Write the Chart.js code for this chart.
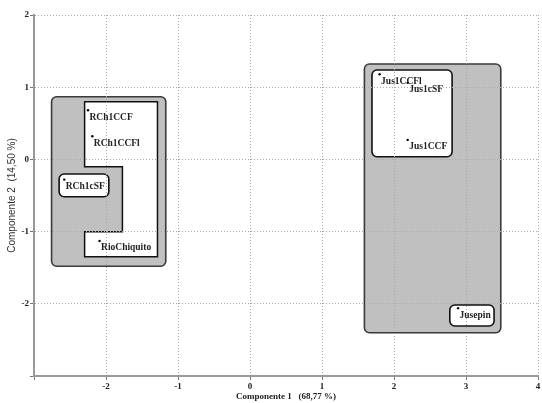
<!DOCTYPE html>
<html>
<head>
<meta charset="utf-8">
<script src="https://cdn.jsdelivr.net/npm/chart.js@4"></script>
<style>
  body { margin: 0; background: #fff; }
</style>
</head>
<body>
<canvas id="pcaChart" width="542" height="403"></canvas>
<script>
// scores on the first two components
const names = ["RCh1CCF", "RCh1CCFl", "RCh1cSF", "RioChiquito", "Jus1CCFl", "Jus1cSF", "Jus1CCF", "Jusepin"];
const comp1 = [-2.25, -2.19, -2.58, -2.09, 1.80, 2.19, 2.19, 2.89];
const comp2 = [0.68, 0.32, -0.28, -1.13, 1.18, 1.06, 0.27, -2.06];

const xTickValues = [-2, -1, 0, 1, 2, 3, 4];
const yTickValues = [-2, -1, 0, 1, 2];

// cluster regions in component units: [x1, y1, x2, y2]
const grayBoxes = [
  [-2.756, 0.868, -1.170, -1.48],
  [1.589, 1.321, 3.483, -2.40],
];
const whiteBoxes = [
  [-2.651, -0.202, -1.961, -0.517],
  [1.694, 1.238, 2.807, 0.037],
  [2.775, -2.017, 3.39, -2.307],
];
const whiteShapeX = [-2.297, -1.285, -1.285, -2.297, -2.297, -1.772, -1.772, -2.297];
const whiteShapeY = [0.799, 0.799, -1.348, -1.348, -1.001, -1.001, -0.101, -0.101];

const serif = "'Liberation Serif', 'Times New Roman', serif";

function boxPath(ctx, x, y, b, r) {
  const x1 = x.getPixelForValue(b[0]);
  const x2 = x.getPixelForValue(b[2]);
  const y1 = y.getPixelForValue(b[1]);
  const y2 = y.getPixelForValue(b[3]);
  ctx.beginPath();
  ctx.roundRect(x1, y1, x2 - x1, y2 - y1, r);
}

const clusterPlugin = {
  id: "clusters",
  beforeDraw(chart) {
    const { ctx, scales: { x, y } } = chart;
    ctx.save();
    ctx.lineJoin = "round";

    grayBoxes.forEach((b) => {
      boxPath(ctx, x, y, b, 5);
      ctx.fillStyle = "#c0c0c0";
      ctx.fill();
      ctx.lineWidth = 1.6;
      ctx.strokeStyle = "#3a3a3a";
      ctx.stroke();
    });

    ctx.beginPath();
    whiteShapeX.forEach((v, i) => {
      const px = x.getPixelForValue(v);
      const py = y.getPixelForValue(whiteShapeY[i]);
      if (i === 0) ctx.moveTo(px, py);
      else ctx.lineTo(px, py);
    });
    ctx.closePath();
    ctx.fillStyle = "#fff";
    ctx.fill();
    ctx.lineWidth = 1.5;
    ctx.strokeStyle = "#111";
    ctx.lineJoin = "miter";
    ctx.stroke();

    ctx.lineJoin = "round";
    whiteBoxes.forEach((b) => {
      boxPath(ctx, x, y, b, 5);
      ctx.fillStyle = "#fff";
      ctx.fill();
      ctx.lineWidth = 1.6;
      ctx.strokeStyle = "#111";
      ctx.stroke();
    });
    ctx.restore();
  },
  afterDatasetsDraw(chart) {
    const { ctx, scales: { x, y } } = chart;
    ctx.save();
    ctx.font = "bold 9.5px " + serif;
    ctx.fillStyle = "#222";
    ctx.textBaseline = "alphabetic";
    names.forEach((name, i) => {
      const px = x.getPixelForValue(comp1[i]);
      const py = y.getPixelForValue(comp2[i]);
      ctx.fillText(name, px + 1.5, py + 9.5);
    });
    ctx.restore();
  },
};

new Chart(document.getElementById("pcaChart"), {
  type: "scatter",
  data: {
    datasets: [
      {
        data: comp1.map((v, i) => ({ x: v, y: comp2[i] })),
        pointRadius: 1.2,
        pointBackgroundColor: "#000",
        pointBorderWidth: 0,
      },
    ],
  },
  options: {
    responsive: false,
    animation: false,
    layout: { padding: { top: 15, right: 0, bottom: 0, left: 0 } },
    plugins: {
      legend: { display: false },
      tooltip: { enabled: false },
    },
    scales: {
      x: {
        type: "linear",
        min: -3,
        max: 4,
        ticks: {
          stepSize: 1,
          padding: 2,
          color: "#222",
          font: { family: serif, weight: "bold", size: 9, lineHeight: 1 },
          callback: (val) => (xTickValues.includes(val) ? String(val) : ""),
        },
        grid: { color: "#aaa", tickLength: 4, tickColor: "#777" },
        border: { color: "#999", width: 2, dash: [1, 2] },
        title: {
          display: true,
          text: "Componente 1   (68,77 %)",
          color: "#222",
          font: { family: serif, weight: "bold", size: 9 },
          padding: { top: 0, bottom: 1 },
        },
        afterFit: (scale) => {
          scale.height = 27;
          scale.paddingLeft = 0;
          scale.paddingRight = 0;
        },
      },
      y: {
        type: "linear",
        min: -3,
        max: 2,
        ticks: {
          stepSize: 1,
          padding: 1,
          color: "#222",
          font: { family: serif, weight: "bold", size: 9 },
          callback: (val) => (yTickValues.includes(val) ? String(val) : ""),
        },
        grid: { color: "#aaa", tickLength: 4, tickColor: "#777" },
        border: { color: "#999", width: 2, dash: [1, 2] },
        title: {
          display: true,
          text: "Componente 2  (14,50 %)",
          color: "#333",
          font: { family: "'Liberation Sans', Arial, sans-serif", size: 10 },
          padding: { top: 6.5, bottom: 0 },
        },
        afterFit: (scale) => {
          scale.width = 34;
          scale.paddingTop = 0;
          scale.paddingBottom = 0;
        },
      },
    },
  },
  plugins: [clusterPlugin],
});
</script>
</body>
</html>
